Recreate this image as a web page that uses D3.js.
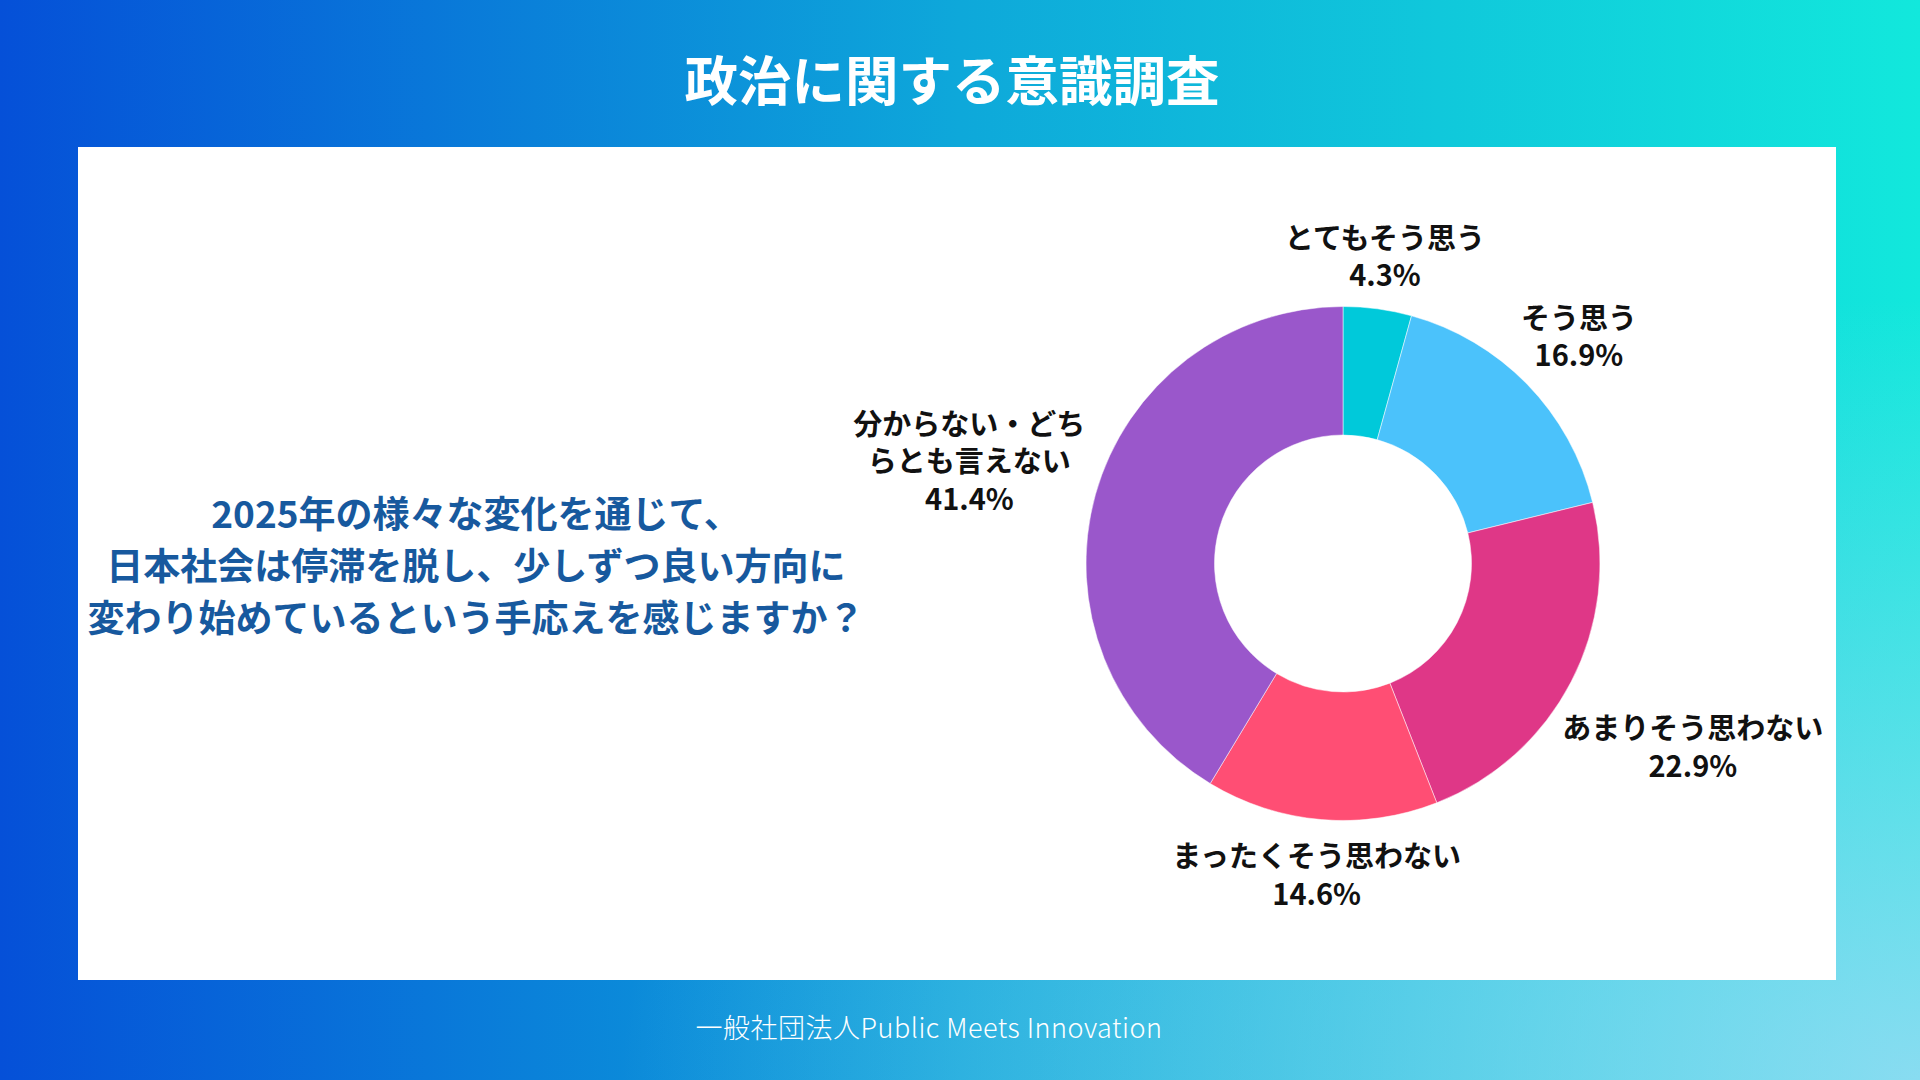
<!DOCTYPE html>
<html lang="ja">
<head>
<meta charset="utf-8">
<title>政治に関する意識調査</title>
<script src="https://cdn.jsdelivr.net/npm/d3@7"></script>
<style>
  html, body { margin: 0; padding: 0; background: #0a7ad8; overflow: hidden; }
  svg { display: block; }
  text { font-family: "Noto Sans CJK JP", "Noto Sans", sans-serif; }
</style>
</head>
<body>
<svg id="chart"></svg>
<script>
// データ
var title = "政治に関する意識調査";
var question = [
  "2025年の様々な変化を通じて、",
  "日本社会は停滞を脱し、少しずつ良い方向に",
  "変わり始めているという手応えを感じますか？"
];
var categories = ["とてもそう思う", "そう思う", "あまりそう思わない", "まったくそう思わない", "分からない・どちらとも言えない"];
var values = [4.3, 16.9, 22.9, 14.6, 41.4];
var colors = ["#00c9da", "#4bc2fb", "#df3787", "#ff4e74", "#9a57cb"];
var footer = "一般社団法人Public Meets Innovation";

var W = 1920, H = 1080;
var panel = {x: 78, y: 147, w: 1758, h: 833};

// 円グラフの描画領域（パネル右側）
var area = {left: 850, right: panel.x + panel.w};
var cx = (area.left + area.right) / 2;
var cy = panel.y + panel.h / 2;
var outerR = 257, innerR = 128.5;
var labelGap = 261;   // ラベル箱の内側の距離
var lineH = 37.5;

var svg = d3.select("#chart")
    .attr("width", W)
    .attr("height", H);

var defs = svg.append("defs");

// 背景グラデーション
var bg = defs.append("linearGradient")
    .attr("id", "bg")
    .attr("x1", "0").attr("y1", "0").attr("x2", "1").attr("y2", "0");
bg.append("stop").attr("offset", "0%").attr("stop-color", "#0550d8");
bg.append("stop").attr("offset", "50%").attr("stop-color", "#0ea8da");
bg.append("stop").attr("offset", "100%").attr("stop-color", "#12e8dc");

var glow = defs.append("radialGradient")
    .attr("id", "glow")
    .attr("gradientUnits", "userSpaceOnUse")
    .attr("cx", W).attr("cy", H).attr("r", 1300)
    .attr("gradientTransform", "translate(" + W + "," + H + ") scale(1,0.6) translate(" + (-W) + "," + (-H) + ")");
glow.append("stop").attr("offset", "0%").attr("stop-color", "#b0d8f8").attr("stop-opacity", 0.75);
glow.append("stop").attr("offset", "100%").attr("stop-color", "#b0d8f8").attr("stop-opacity", 0);

svg.append("rect").attr("width", W).attr("height", H).attr("fill", "url(#bg)");
svg.append("rect").attr("width", W).attr("height", H).attr("fill", "url(#glow)");

// タイトル
svg.append("text")
    .attr("x", 952)
    .attr("y", 77)
    .attr("text-anchor", "middle")
    .attr("dominant-baseline", "central")
    .attr("fill", "#fff")
    .style("font-size", "53.5px")
    .style("font-weight", 700)
    .text(title);

// 白いパネル
svg.append("rect")
    .attr("x", panel.x).attr("y", panel.y)
    .attr("width", panel.w).attr("height", panel.h)
    .attr("fill", "#fff");

// 設問
svg.append("g")
    .selectAll("text")
    .data(question)
    .enter()
    .append("text")
    .attr("x", 476)
    .attr("y", function(d, i){ return cy + (i - 1) * 52; })
    .attr("text-anchor", "middle")
    .attr("dominant-baseline", "central")
    .attr("fill", "#17599e")
    .style("font-size", "37px")
    .style("font-weight", 700)
    .text(function(d){ return d; });

// ドーナツ
var pie = d3.pie().sort(null).value(function(d){ return d; });
var arcs = pie(values);

var arc = d3.arc().innerRadius(innerR).outerRadius(outerR);

var g = svg.append("g")
    .attr("transform", "translate(" + cx + "," + cy + ")");

g.selectAll("path")
    .data(arcs)
    .enter()
    .append("path")
    .attr("d", arc)
    .attr("fill", function(d, i){ return colors[i]; })
    .attr("stroke", "#fff")
    .attr("stroke-width", 0.5);

// ラベル：角度方向に配置、領域からはみ出す場合は折り返す
var labels = svg.append("g");

arcs.forEach(function(d, i){
  var a = (d.startAngle + d.endAngle) / 2;
  var ux = Math.sin(a), uy = -Math.cos(a);
  var name = categories[i];
  var pct = d3.format(".1f")(values[i]) + "%";

  var t = labels.append("text")
      .attr("text-anchor", "middle")
      .attr("fill", "#111")
      .style("font-size", "29px")
      .style("font-weight", 700);

  var pos = null;
  for (var n = name.length; n >= 1; n--) {
    var lines = [];
    for (var k = 0; k < name.length; k += n) lines.push(name.slice(k, k + n));
    lines.push(pct);

    t.selectAll("tspan").remove();
    var spans = t.selectAll("tspan")
        .data(lines)
        .enter()
        .append("tspan")
        .attr("dominant-baseline", "central")
        .text(function(s){ return s; });

    var w = 0;
    spans.each(function(){ w = Math.max(w, this.getComputedTextLength()); });
    var h = lines.length * lineH;
    var dist = labelGap + Math.abs(ux) * w / 2 + Math.abs(uy) * h / 2;
    var x = cx + ux * dist, y = cy + uy * dist;
    pos = {x: x, y: y, h: h};
    if (x - w / 2 >= area.left && x + w / 2 <= area.right) break;
  }

  t.selectAll("tspan")
      .attr("x", pos.x)
      .attr("y", function(s, j){ return pos.y - pos.h / 2 + lineH * (j + 0.5); });
});

// フッター
svg.append("text")
    .attr("x", 929)
    .attr("y", 1026)
    .attr("text-anchor", "middle")
    .attr("dominant-baseline", "central")
    .attr("fill", "#fff")
    .style("font-size", "27px")
    .style("font-weight", 300)
    .style("letter-spacing", "0.5px")
    .text(footer);
</script>
</body>
</html>
